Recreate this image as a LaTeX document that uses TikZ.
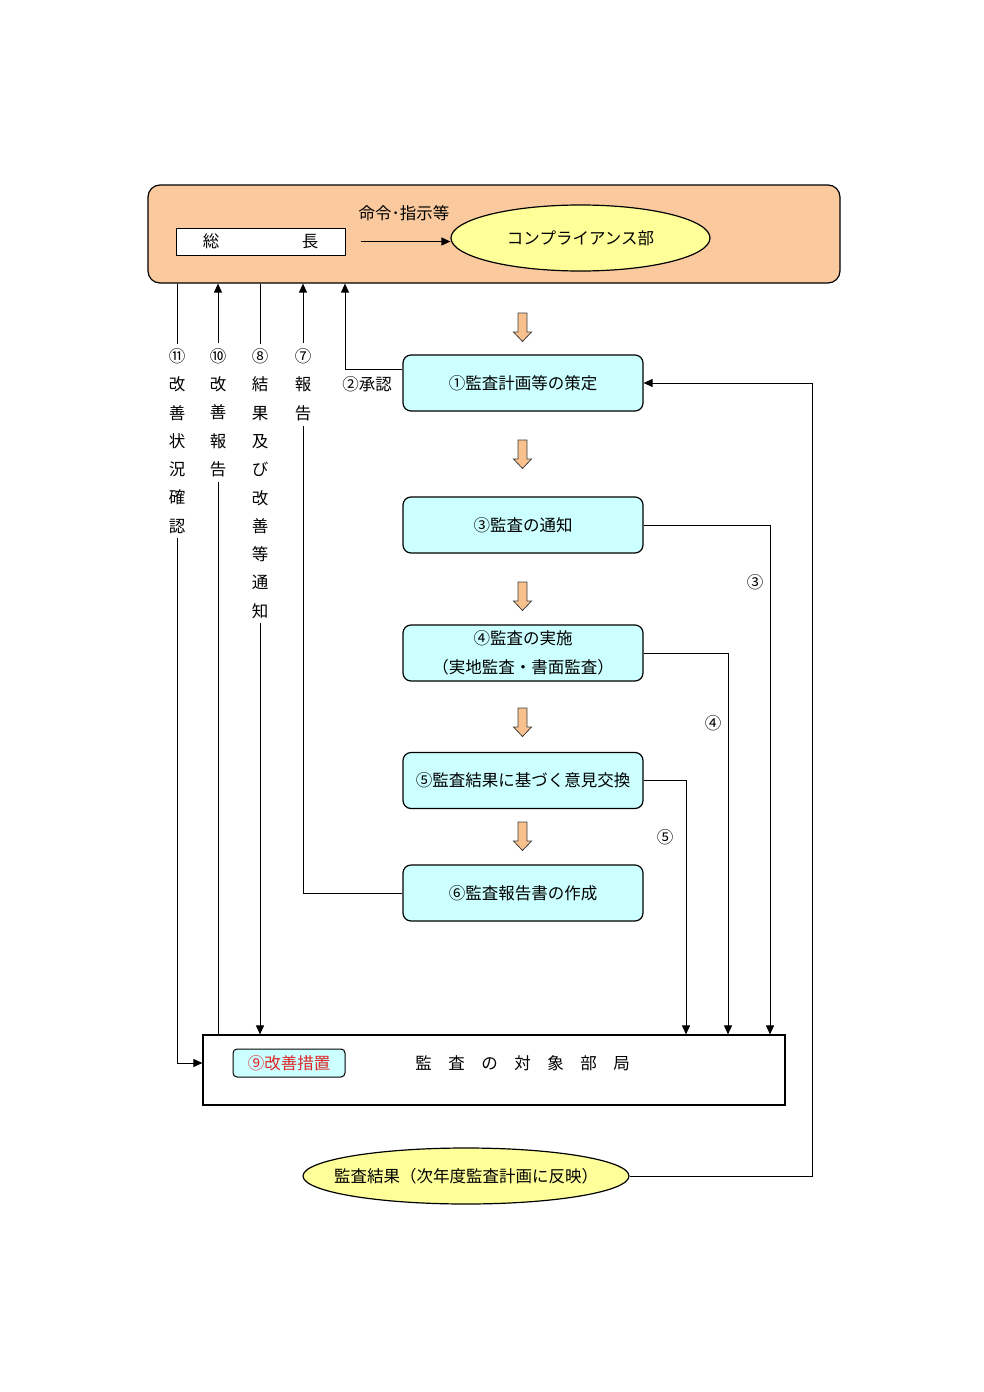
\documentclass[tikz,border=0pt]{standalone}
\usepackage{fontspec}
\setmainfont{Noto Sans CJK JP}
\usetikzlibrary{shapes.geometric,arrows.meta}
\definecolor{peach}{RGB}{250,202,158}
\definecolor{orangearr}{RGB}{248,192,140}
\definecolor{cyanbox}{RGB}{204,255,255}
\definecolor{yellowell}{RGB}{255,255,153}
\definecolor{redtext}{RGB}{220,40,40}
\begin{document}
\begin{tikzpicture}[x=1pt,y=-1pt,
  font=\fontsize{16.5}{20}\selectfont,
  arr/.style={-{Triangle[length=9pt,width=8pt]}, line width=1pt},
  conn/.style={line width=1pt},
  proc/.style={draw, line width=1.2pt, rounded corners=8pt, fill=cyanbox,
    minimum width=240pt, minimum height=56pt, inner sep=0pt, align=center,
    font=\fontsize{16.5}{29}\selectfont},
  ell/.style={draw, ellipse, line width=1.2pt, fill=yellowell, inner sep=0pt},
  vlab/.style={fill=white, align=center, inner xsep=2pt, inner ysep=5pt,
    font=\fontsize{16.5}{28.3}\selectfont},
  lab/.style={inner sep=1pt},
  blk/.style={draw=black!75, fill=orangearr, line width=0.8pt, line join=miter}]
\useasboundingbox (0,0) rectangle (984,1392);
\fill[white] (0,0) rectangle (984,1392);

% top box
\node[draw, line width=1.2pt, rounded corners=12pt, fill=peach,
  minimum width=692pt, minimum height=98pt] (top) at (494,234) {};
\node[draw, line width=1pt, fill=white, minimum width=169pt, minimum height=27pt, inner sep=0pt]
  (chief) at (260.5,241.5) {総　　　　　長};
\node[ell, minimum width=259pt, minimum height=66pt] (comp) at (580.5,238) {コンプライアンス部};
\node[lab] (order) at (404,213) {命令･指示等};
\draw[arr] ([xshift=15pt]chief.east) -- (chief.east -| comp.west);

% process boxes
\node[proc] (p1) at (523,383) {①監査計画等の策定};
\node[proc] (p3) at (523,525) {③監査の通知};
\node[proc] (p4) at (523,653) {④監査の実施\\（実地監査・書面監査）};
\node[proc] (p5) at (523,780.5) {⑤監査結果に基づく意見交換};
\node[proc] (p6) at (523,893) {⑥監査報告書の作成};

% orange block arrows
\foreach \t in {313,440,582,708,822}{
  \draw[blk] (518,\t) -- (527,\t) -- (527,\t+19) -- (531.5,\t+19) -- (522.5,\t+28.5)
    -- (513.5,\t+19) -- (518,\t+19) -- cycle;
}

% target department
\node[draw, line width=1.2pt, fill=white, minimum width=582pt, minimum height=70pt] (tgt) at (494,1070) {};
\node[draw, line width=1pt, rounded corners=4pt, fill=cyanbox, minimum width=112pt, minimum height=28pt,
  inner sep=0pt, text=redtext] (fix) at (289,1063) {⑨改善措置};
\node[lab] (tgtlabel) at (522.5,1063) {監　査　の　対　象　部　局};

% result ellipse
\node[ell, inner xsep=-17pt, inner ysep=0pt, minimum width=326pt, minimum height=56pt] (res) at (466,1176)
  {監査結果（次年度監査計画に反映）};

% column coordinates
\coordinate (c11) at (177,0);
\coordinate (c10) at (218,0);
\coordinate (c8) at (260,0);
\coordinate (c7) at (303,0);
\coordinate (c2) at (345,0);
\coordinate (c3) at (770,0);
\coordinate (c4) at (728,0);
\coordinate (c5) at (686,0);
\coordinate (cfb) at (812,0);

% left connectors
\draw[arr] (c11 |- top.south) |- ([yshift=7pt]tgt.west);
\draw[arr] (c10 |- tgt.north) -- (c10 |- top.south);
\draw[arr] (c8 |- top.south) -- (c8 |- tgt.north);
\draw[arr] (p6.west) -| (c7 |- top.south);
\draw[arr] ([yshift=14pt]p1.west) -| (c2 |- top.south);

% right connectors
\draw[arr] (p3.east) -| (c3 |- tgt.north);
\draw[arr] (p4.east) -| (c4 |- tgt.north);
\draw[arr] (p5.east) -| (c5 |- tgt.north);
\draw[arr] (res.east) -| (cfb |- p1.east) -- (p1.east);

% labels
\node[vlab] (l11) at (177,441) {⑪\\改\\善\\状\\況\\確\\認};
\node[vlab] (l10) at (218,412.5) {⑩\\改\\善\\報\\告};
\node[vlab] (l8) at (260,483.5) {⑧\\結\\果\\及\\び\\改\\善\\等\\通\\知};
\node[vlab] (l7) at (303,384.5) {⑦\\報\\告};
\node[lab] (l2) at (367,384) {②承認};
\node[lab] (l3) at (755,582) {③};
\node[lab] (l4) at (713,723) {④};
\node[lab] (l5) at (665,837) {⑤};
\end{tikzpicture}
\end{document}
